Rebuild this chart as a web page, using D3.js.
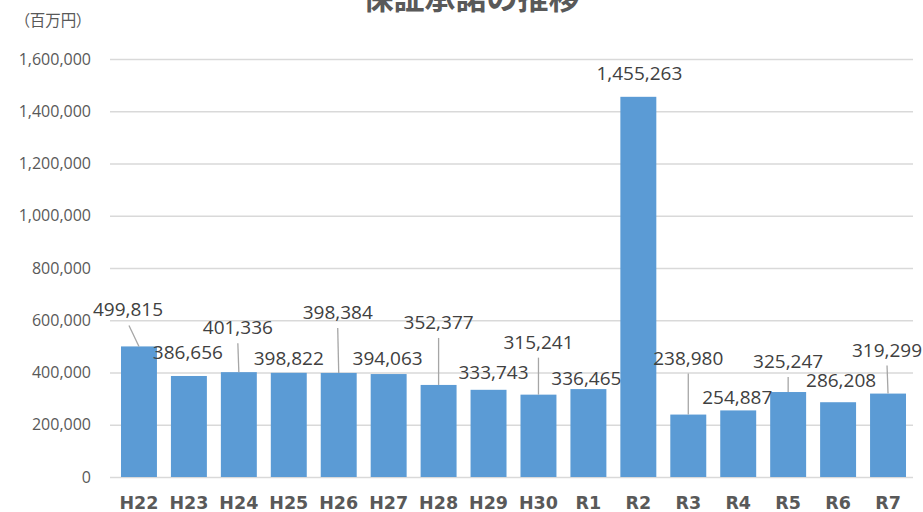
<!DOCTYPE html>
<html lang="ja">
<head>
<meta charset="utf-8">
<script src="https://cdn.jsdelivr.net/npm/d3@7"></script>
<style>
  html, body { margin: 0; padding: 0; background: #ffffff; }
  svg { display: block; }
</style>
</head>
<body>
<div id="chart"></div>
<script>
// 年度ごとの保証承諾額（百万円）
const years = ["H22", "H23", "H24", "H25", "H26", "H27", "H28", "H29", "H30",
               "R1", "R2", "R3", "R4", "R5", "R6", "R7"];
const amounts = [499815, 386656, 401336, 398822, 398384, 394063, 352377, 333743,
                 315241, 336465, 1455263, 238980, 254887, 325247, 286208, 319299];
const yTicks = [0, 200000, 400000, 600000, 800000, 1000000, 1200000, 1400000, 1600000];
const titleText = "保証承諾の推移";
const unitText = "（百万円）";

// Data label placement: horizontal shift, lift above bar top (px), leader line on/off
const labelShift = [-11, -1, -1, 0, -1, -1, 0, 5, 0, -2, 1, 0, -1, 0, 3, -1];
const labelLift  = [30, 17, 38, 8, 54, 9, 56, 11, 46, 4, 17, 50, 6, 24, 15, 37];
const hasLeader  = [1, 0, 1, 0, 1, 0, 1, 0, 1, 0, 0, 1, 0, 1, 0, 1];

const W = 923, H = 512;
const plot = { left: 114, right: 913, top: 59, bottom: 477 };

const svg = d3.select("#chart").append("svg")
  .attr("width", W).attr("height", H);

const x = d3.scaleBand()
  .domain(years)
  .range([plot.left, plot.right])
  .paddingInner(0.28)
  .paddingOuter(0.14);

const y = d3.scaleLinear()
  .domain([0, 1600000])
  .range([plot.bottom, plot.top]);

const fmt = d3.format(",");

// Title (runs past the top edge of the canvas)
svg.append("text")
  .attr("x", 471).attr("y", 9)
  .attr("text-anchor", "middle")
  .attr("font-family", "'Noto Sans CJK JP', sans-serif")
  .attr("font-weight", "bold")
  .attr("font-size", 31)
  .attr("fill", "#595959")
  .text(titleText);

// Unit label (proportional punctuation keeps the brackets narrow)
svg.append("text")
  .attr("x", 53).attr("y", 26)
  .attr("text-anchor", "middle")
  .attr("font-family", "'Noto Sans CJK JP', sans-serif")
  .attr("font-size", 15.5)
  .attr("fill", "#595959")
  .style("font-feature-settings", "'palt' 1")
  .text(unitText);

// Gridlines + y axis labels
const yAxis = d3.axisLeft(y)
  .tickValues(yTicks)
  .tickFormat(fmt)
  .tickSize(-(plot.right - plot.left + 4))
  .tickPadding(19);

const gy = svg.append("g")
  .attr("transform", `translate(${plot.left - 4},0)`)
  .call(yAxis);
gy.select(".domain").remove();
gy.selectAll(".tick line")
  .attr("stroke", "#d9d9d9")
  .attr("stroke-width", 1.3);
gy.selectAll(".tick text")
  .attr("font-family", "'Open Sans', sans-serif")
  .attr("font-size", 16)
  .attr("fill", "#595959");

// Bars
svg.append("g").selectAll("rect")
  .data(years)
  .join("rect")
  .attr("x", d => x(d))
  .attr("width", x.bandwidth())
  .attr("y", (d, i) => y(amounts[i]))
  .attr("height", (d, i) => y(0) - y(amounts[i]))
  .attr("fill", "#5b9bd5");

// Category axis
const xAxis = d3.axisBottom(x).tickSize(0).tickPadding(20);
const gx = svg.append("g")
  .attr("transform", `translate(0,${plot.bottom})`)
  .call(xAxis);
gx.select(".domain").remove();
gx.selectAll(".tick text")
  .attr("font-family", "'DejaVu Sans', sans-serif")
  .attr("font-weight", "bold")
  .attr("font-size", 17.5)
  .attr("fill", "#595959");

// Data labels with leader lines
const labels = svg.append("g");
years.forEach((d, i) => {
  const cx = x(d) + x.bandwidth() / 2;
  const top = y(amounts[i]);
  const tx = cx + labelShift[i];
  const ty = top - labelLift[i];
  if (hasLeader[i]) {
    labels.append("line")
      .attr("x1", tx + (i === 0 ? 1 : 0)).attr("y1", ty + 9)
      .attr("x2", cx).attr("y2", top)
      .attr("stroke", "#a6a6a6")
      .attr("stroke-width", 1.3);
  }
  labels.append("text")
    .attr("x", tx).attr("y", ty)
    .attr("text-anchor", "middle")
    .attr("font-family", "'Open Sans', sans-serif")
    .attr("font-size", 19)
    .attr("fill", "#404040")
    .text(fmt(amounts[i]));
});
</script>
</body>
</html>
